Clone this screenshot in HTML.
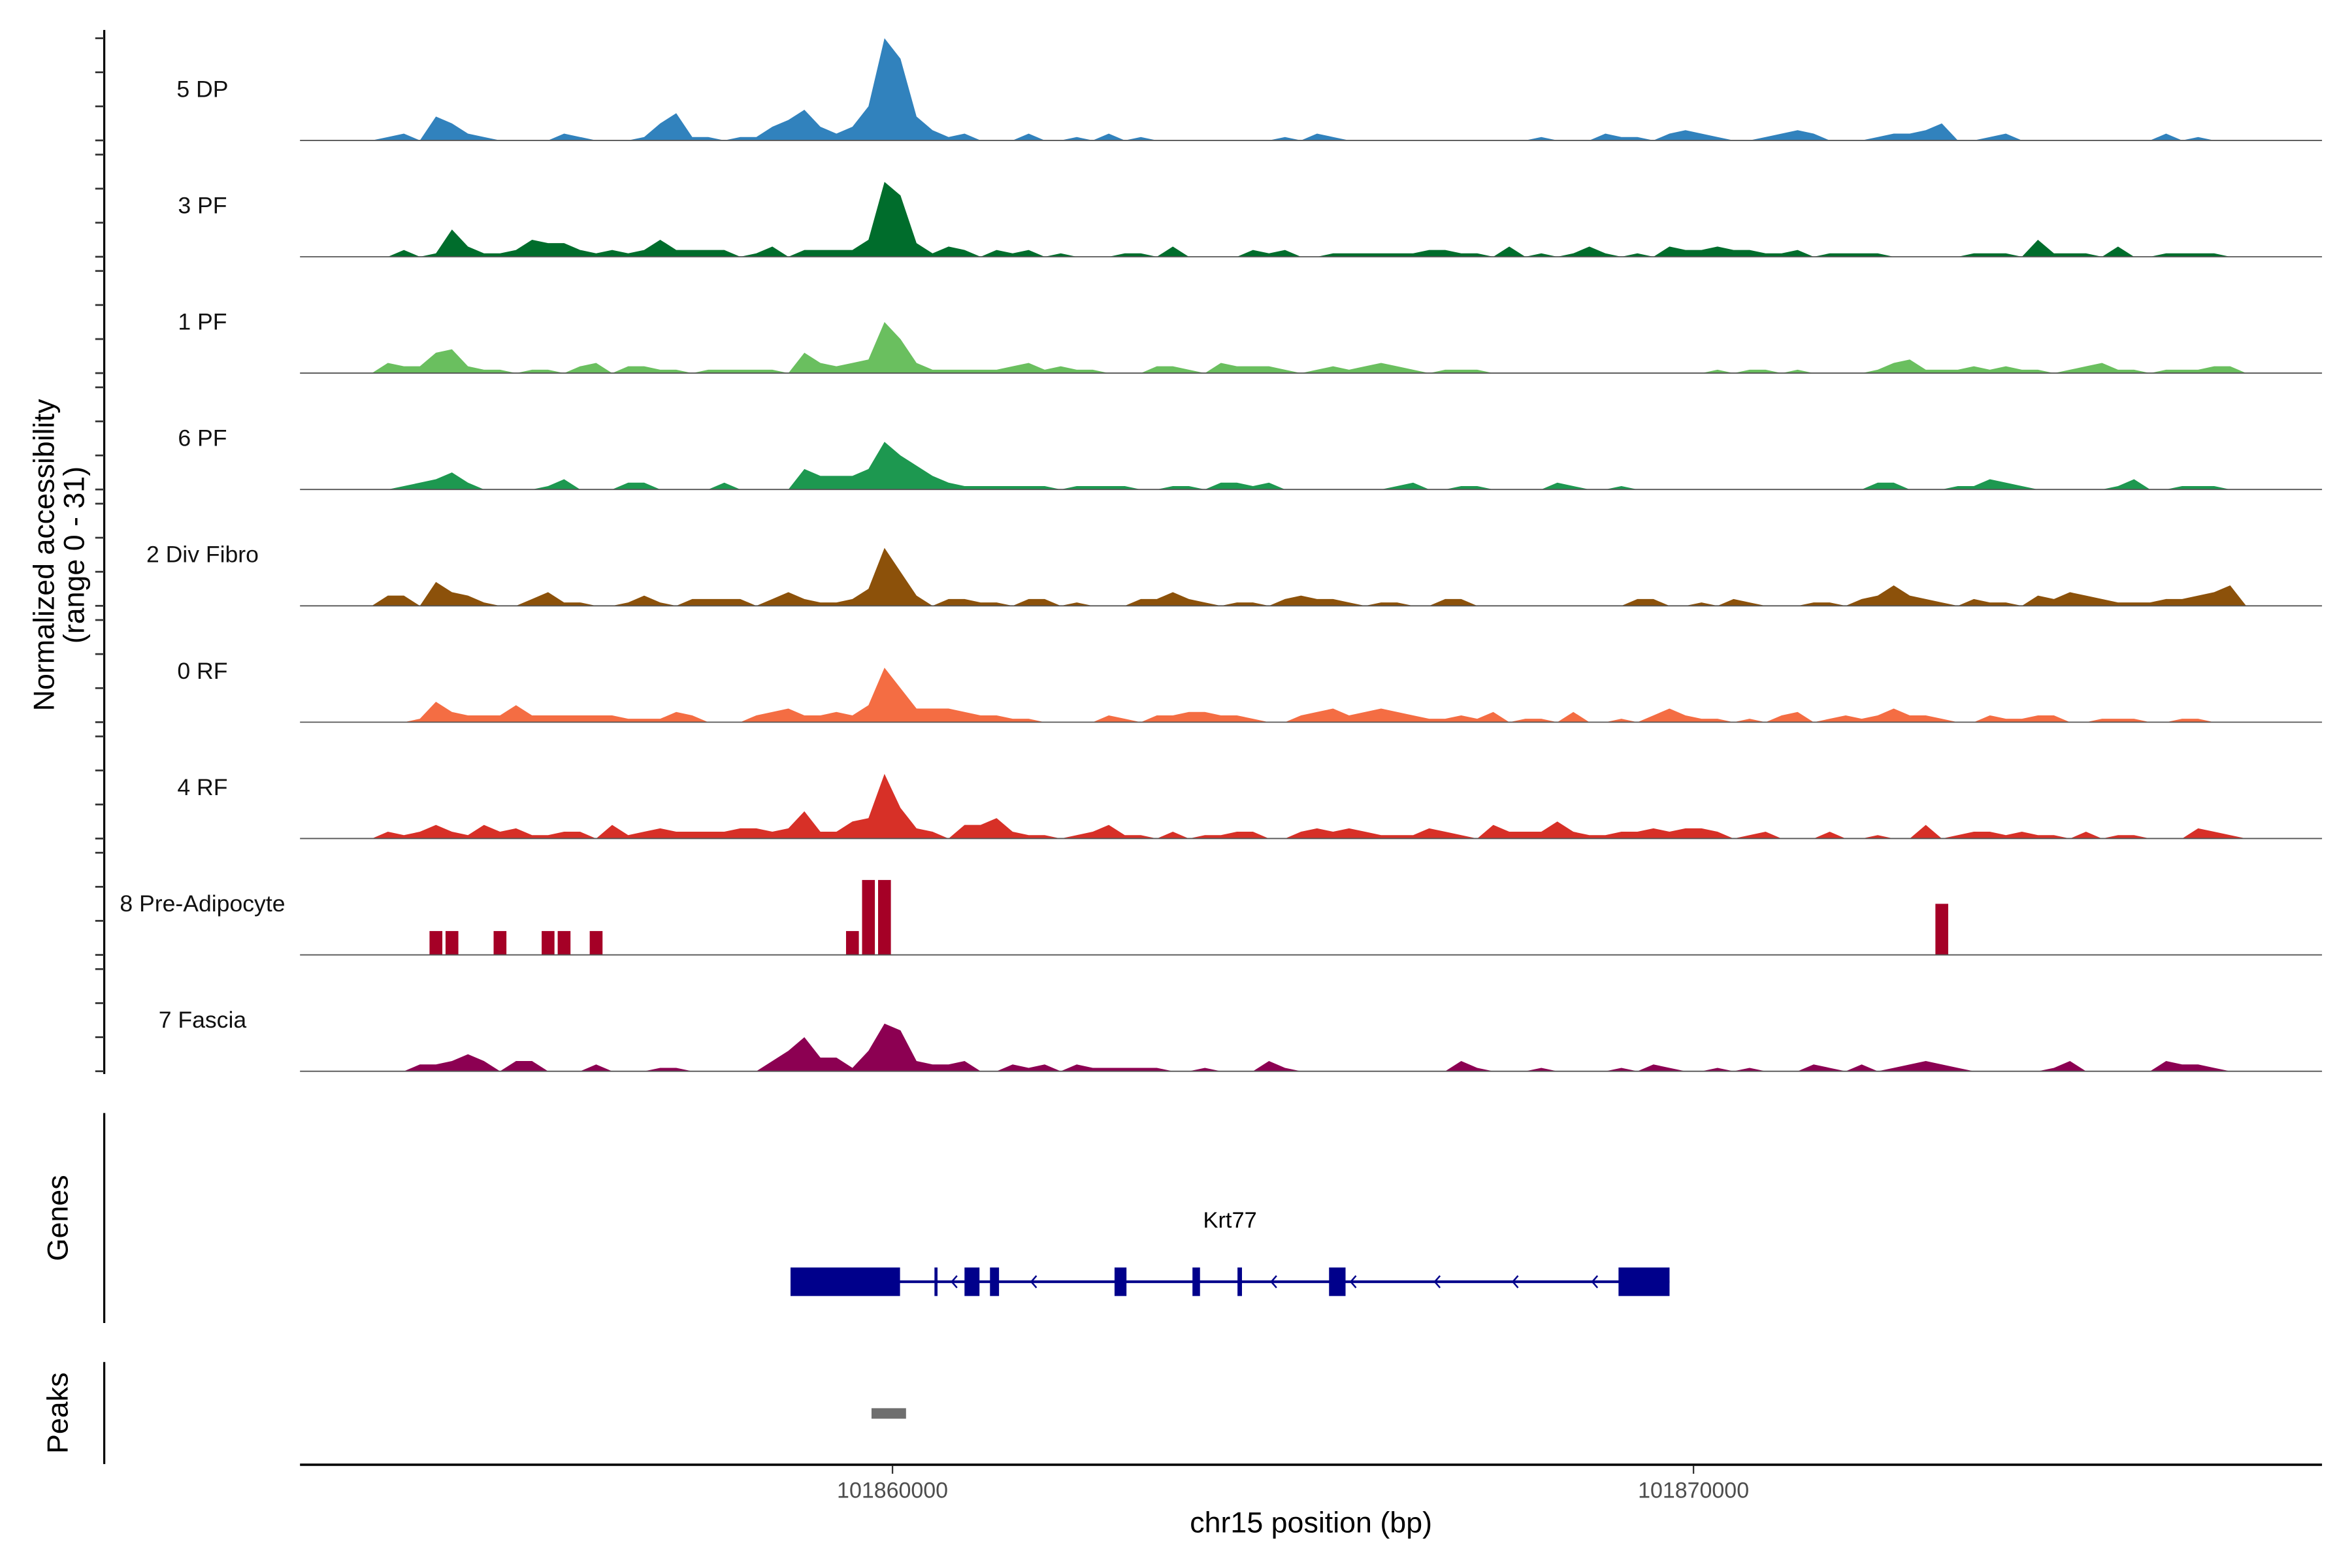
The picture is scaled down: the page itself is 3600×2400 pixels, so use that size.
<!DOCTYPE html>
<html><head><meta charset="utf-8">
<style>
html,body{margin:0;padding:0;background:#fff;}
svg{display:block;font-family:"Liberation Sans",Arial,sans-serif;}
</style></head>
<body>
<svg id="chart" width="3600" height="2400" viewBox="0 0 1568 1045.33" xmlns="http://www.w3.org/2000/svg">
<rect x="0" y="0" width="1568" height="1045.33" fill="#fff"/>
<g id="tracks"></g>
<g id="axisg"></g>
<g id="genes"></g>
<g id="peaks"></g>
<g id="xaxis"></g>
</svg>
<script>
// ---- data ----
const trackNames = ["5 DP","3 PF","1 PF","6 PF","2 Div Fibro","0 RF","4 RF","8 Pre-Adipocyte","7 Fascia"];
const trackColors = ["#3182bd","#006d2c","#6abf5f","#1d9850","#8c510a","#f46d43","#d73027","#a50026","#8c0052"];
const trackStepStyle = [false,false,false,false,false,false,false,true,false];
const binStart = 101852600;
const binSize = 200;
const yMax = 31;
const dpVals = [0,0,0,0,0,1,2,0,7,5, 2,1,0,0,0,0,2,1,0,0, 0,1,5,8,1,1,0,1,1,4, 6,9,4,2,4,10,30,24,7,3, 1,2,0,0,0,2,0,0,1,0, 2,0,1,0,0,0,0,0,0,0, 0,1,0,2,1,0,0,0,0,0, 0,0,0,0,0,0,0,1,0,0, 0,2,1,1,0,2,3,2,1,0, 0,1,2,3,2,0,0,0,1,2, 2,3,5,0,0,1,2,0,0,0, 0,0,0,0,0,0,2,0,1,0, 0,0,0,0,0,0,0];
const pf3Vals = [0,0,0,0,0,0,2,0,1,8, 3,1,1,2,5,4,4,2,1,2, 1,2,5,2,2,2,2,0,1,3, 0,2,2,2,2,5,22,18,4,1, 3,2,0,2,1,2,0,1,0,0, 0,1,1,0,3,0,0,0,0,2, 1,2,0,0,1,1,1,1,1,1, 2,2,1,1,0,3,0,1,0,1, 3,1,0,1,0,3,2,2,3,2, 2,1,1,2,0,1,1,1,1,0, 0,0,0,0,1,1,1,0,5,1, 1,1,0,3,0,0,1,1,1,1, 0,0,0,0,0,0,0];
const pf1Vals = [0,0,0,0,0,3,2,2,6,7, 2,1,1,0,1,1,0,2,3,0, 2,2,1,1,0,1,1,1,1,1, 0,6,3,2,3,4,15,10,3,1, 1,1,1,1,2,3,1,2,1,1, 0,0,0,2,2,1,0,3,2,2, 2,1,0,1,2,1,2,3,2,1, 0,1,1,1,0,0,0,0,0,0, 0,0,0,0,0,0,0,0,1,0, 1,1,0,1,0,0,0,0,1,3, 4,1,1,1,2,1,2,1,1,0, 1,2,3,1,1,0,1,1,1,2, 2,0,0,0,0,0,0];
const pf6Vals = [0,0,0,0,0,0,1,2,3,5, 2,0,0,0,0,1,3,0,0,0, 2,2,0,0,0,0,2,0,0,0, 0,6,4,4,4,6,14,10,7,4, 2,1,1,1,1,1,1,0,1,1, 1,1,0,0,1,1,0,2,2,1, 2,0,0,0,0,0,0,0,1,2, 0,0,1,1,0,0,0,0,2,1, 0,0,1,0,0,0,0,0,0,0, 0,0,0,0,0,0,0,0,2,2, 0,0,0,1,1,3,2,1,0,0, 0,0,0,1,3,0,0,1,1,1, 0,0,0,0,0,0,0];
const divVals = [0,0,0,0,0,3,3,0,7,4, 3,1,0,0,2,4,1,1,0,0, 1,3,1,0,2,2,2,2,0,2, 4,2,1,1,2,5,17,10,3,0, 2,2,1,1,0,2,2,0,1,0, 0,0,2,2,4,2,1,0,1,1, 0,2,3,2,2,1,0,1,1,0, 0,2,2,0,0,0,0,0,0,0, 0,0,0,2,2,0,0,1,0,2, 1,0,0,0,1,1,0,2,3,6, 3,2,1,0,2,1,1,0,3,2, 4,3,2,1,1,1,2,2,3,4, 6,0,0,0,0,0,0];
const rf0Vals = [0,0,0,0,0,0,0,1,6,3, 2,2,2,5,2,2,2,2,2,2, 1,1,1,3,2,0,0,0,2,3, 4,2,2,3,2,5,16,10,4,4, 4,3,2,2,1,1,0,0,0,0, 2,1,0,2,2,3,3,2,2,1, 0,0,2,3,4,2,3,4,3,2, 1,1,2,1,3,0,1,1,0,3, 0,0,1,0,2,4,2,1,1,0, 1,0,2,3,0,1,2,1,2,4, 2,2,1,0,0,2,1,1,2,2, 0,0,1,1,1,0,0,1,1,0, 0,0,0,0,0,0,0];
const rf4Vals = [0,0,0,0,0,2,1,2,4,2, 1,4,2,3,1,1,2,2,0,4, 1,2,3,2,2,2,2,3,3,2, 3,8,2,2,5,6,19,9,3,2, 0,4,4,6,2,1,1,0,1,2, 4,1,1,0,2,0,1,1,2,2, 0,0,2,3,2,3,2,1,1,1, 3,2,1,0,4,2,2,2,5,2, 1,1,2,2,3,2,3,3,2,0, 1,2,0,0,0,2,0,0,1,0, 0,4,0,1,2,2,1,2,1,1, 0,2,0,1,1,0,0,0,3,2, 1,0,0,0,0,0,0];
const preVals = [0,0,0,0,0,0,0,0,7,7, 0,0,7,0,0,7,7,0,7,0, 0,0,0,0,0,0,0,0,0,0, 0,0,0,0,7,22,22,0,0,0, 0,0,0,0,0,0,0,0,0,0, 0,0,0,0,0,0,0,0,0,0, 0,0,0,0,0,0,0,0,0,0, 0,0,0,0,0,0,0,0,0,0, 0,0,0,0,0,0,0,0,0,0, 0,0,0,0,0,0,0,0,0,0, 0,0,15,0,0,0,0,0,0,0, 0,0,0,0,0,0,0,0,0,0, 0,0,0,0,0,0,0];
const fasVals = [0,0,0,0,0,0,0,2,2,3, 5,3,0,3,3,0,0,0,2,0, 0,0,1,1,0,0,0,0,0,3, 6,10,4,4,1,6,14,12,3,2, 2,3,0,0,2,1,2,0,2,1, 1,1,1,1,0,0,1,0,0,0, 3,1,0,0,0,0,0,0,0,0, 0,0,3,1,0,0,0,1,0,0, 0,0,1,0,2,1,0,0,1,0, 1,0,0,0,2,1,0,2,0,1, 2,3,2,1,0,0,0,0,0,1, 3,0,0,0,0,0,3,2,2,1, 0,0,0,0,0,0,0];
const trackValues = [dpVals,pf3Vals,pf1Vals,pf6Vals,divVals,rf0Vals,rf4Vals,preVals,fasVals];
const yTicks = [0,10,20,30];
const xTicks = [101860000,101870000];
const xTickLabels = ["101860000","101870000"];
const geneName = "Krt77";
const geneStart = 101858727;
const geneEnd = 101869701;
const exonStarts = [101858727,101860524,101860899,101861217,101862772,101863745,101864307,101865450,101869064];
const exonEnds   = [101860094,101860562,101861086,101861330,101862921,101863839,101864363,101865656,101869701];
const arrowPos = [101860768,101861760,101864757,101865749,101866798,101867772,101868764];
const peakStarts = [101859738];
const peakEnds = [101860169];

// ---- scales ----
const NS = "http://www.w3.org/2000/svg";
const plotL = 200, plotR = 1548;
function xScale(bp){ return 595 + (bp - 101860000) * 0.0534; }
const trackBase0 = 93.6, trackStep = 77.57, unitPx = 2.27;
function trackBaseline(i){ return trackBase0 + trackStep * i; }
function yScale(i, v){ return trackBaseline(i) - v * unitPx; }
function mk(tag, attrs, parent){ const e=document.createElementNS(NS,tag); for(const k in attrs) e.setAttribute(k, attrs[k]); parent.appendChild(e); return e; }

const tracksG = document.getElementById('tracks');
trackValues.forEach((vals, i) => {
  const g = mk('g', {}, tracksG);
  
  
  if (trackStepStyle[i]) {
    vals.forEach((v, b) => {
      if (v <= 0) return;
      const xa = xScale(binStart + binSize * (b + 0.1));
      const xb = xScale(binStart + binSize * (b + 0.9));
      const r = mk('rect', {x: xa.toFixed(2), y: yScale(i, v).toFixed(2), width: (xb - xa).toFixed(2), height: (v * unitPx).toFixed(2), fill: trackColors[i]}, g);
      
      
    });
  } else {
    let pts = [];
    const x0 = Math.max(plotL, xScale(binStart));
    pts.push(x0 + ',' + trackBaseline(i));
    vals.forEach((v, b) => {
      const xc = xScale(binStart + binSize * (b + 0.5));
      pts.push(xc.toFixed(2) + ',' + yScale(i, v).toFixed(2));
    });
    pts.push(xScale(binStart + binSize * vals.length).toFixed(2) + ',' + trackBaseline(i));
    const poly = mk('polygon', {points: pts.join(' '), fill: trackColors[i], stroke: 'none'}, g);
    
    
  }
  const base = mk('line', {x1: plotL, x2: plotR, y1: trackBaseline(i), y2: trackBaseline(i), stroke: '#555', 'stroke-width': 0.8}, g);
  
  
  const lab = mk('text', {x: 135, y: trackBaseline(i) - 29, 'text-anchor': 'middle', 'font-size': 15.5, fill: '#111'}, g);
  lab.textContent = trackNames[i];
  
  
});

// left y axis
const ax = document.getElementById('axisg');
const axl = mk('line', {x1: 69.5, x2: 69.5, y1: 20, y2: 716, stroke: '#000', 'stroke-width': 1.4}, ax);


trackValues.forEach((vals, i) => {
  yTicks.forEach(t => {
    const tk = mk('line', {x1: 63.5, x2: 69.5, y1: yScale(i, t), y2: yScale(i, t), stroke: '#333', 'stroke-width': 1.2}, ax);
    
    
  });
});
const yt = mk('text', {transform: 'translate(36,370) rotate(-90)', 'text-anchor': 'middle', 'font-size': 19.5, fill: '#000'}, ax);
yt.textContent = 'Normalized accessibility';


const yt2 = mk('text', {transform: 'translate(56,370) rotate(-90)', 'text-anchor': 'middle', 'font-size': 19.5, fill: '#000'}, ax);
yt2.textContent = '(range 0 - 31)';



// gene track
const gg = document.getElementById('genes');
const gal = mk('line', {x1: 69.5, x2: 69.5, y1: 742, y2: 882, stroke: '#000', 'stroke-width': 1.4}, gg);


const glab = mk('text', {transform: 'translate(45,812) rotate(-90)', 'text-anchor': 'middle', 'font-size': 19.5, fill: '#000'}, gg);
glab.textContent = 'Genes';


const gy = 854.5;
const intron = mk('line', {x1: xScale(geneStart), x2: xScale(geneEnd), y1: gy, y2: gy, stroke: '#00008b', 'stroke-width': 1.8}, gg);


exonStarts.forEach((s, k) => {
  const x1 = xScale(s), x2 = xScale(exonEnds[k]);
  const r = mk('rect', {x: x1, y: gy - 9.5, width: Math.max(1.2, x2 - x1), height: 19, fill: '#00008b'}, gg);
  
  
});
arrowPos.forEach(p => {
  const x = xScale(p);
  const a = mk('polyline', {points: (x+2)+','+(gy-4)+' '+(x-1.5)+','+gy+' '+(x+2)+','+(gy+4), fill: 'none', stroke: '#00008b', 'stroke-width': 1.1}, gg);
  
  
});
const gn = mk('text', {x: 820, y: 818.5, 'text-anchor': 'middle', 'font-size': 15, fill: '#000'}, gg);
gn.textContent = geneName;



// peaks track
const pg = document.getElementById('peaks');
const pal = mk('line', {x1: 69.5, x2: 69.5, y1: 908, y2: 976, stroke: '#000', 'stroke-width': 1.4}, pg);


const plab = mk('text', {transform: 'translate(45,942) rotate(-90)', 'text-anchor': 'middle', 'font-size': 19.5, fill: '#000'}, pg);
plab.textContent = 'Peaks';


peakStarts.forEach((s, k) => {
  const r = mk('rect', {x: xScale(s), y: 938.8, width: xScale(peakEnds[k]) - xScale(s), height: 7, fill: '#6e6e6e'}, pg);
  
  
});

// x axis
const xg = document.getElementById('xaxis');
const xl = mk('line', {x1: plotL, x2: plotR, y1: 976.5, y2: 976.5, stroke: '#000', 'stroke-width': 1.6}, xg);


xTicks.forEach((t, k) => {
  const tk = mk('line', {x1: xScale(t), x2: xScale(t), y1: 977, y2: 982.5, stroke: '#333', 'stroke-width': 1}, xg);
  
  
  const tl = mk('text', {x: xScale(t), y: 998.5, 'text-anchor': 'middle', 'font-size': 14.8, fill: '#4d4d4d'}, xg);
  tl.textContent = xTickLabels[k];
  
  
});
const xt = mk('text', {x: 874, y: 1021.5, 'text-anchor': 'middle', 'font-size': 19.5, fill: '#000'}, xg);
xt.textContent = 'chr15 position (bp)';


</script>
</body></html>
